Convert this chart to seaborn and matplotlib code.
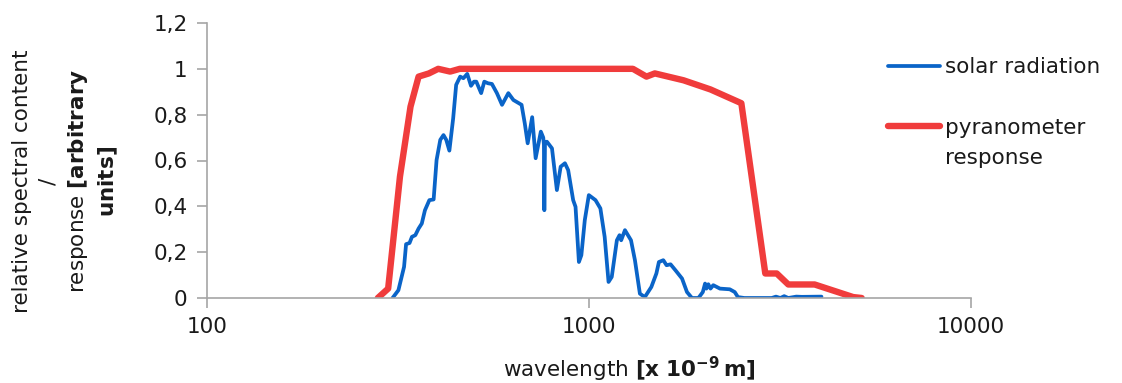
import matplotlib
matplotlib.use("Agg")
import matplotlib.pyplot as plt
import seaborn as sns
from matplotlib.ticker import FixedLocator, FuncFormatter, NullLocator

# spectrum of the sun (wavelength in nm, relative content)
solar_wl = [306, 317, 328, 332, 339, 344, 351, 358, 365, 372, 382, 392, 399, 408,
            416, 423, 431, 441, 449, 460, 469, 480, 491, 500, 507, 522, 532, 544,
            557, 574, 592, 615, 634, 666, 679, 691, 710, 725, 748, 759, 762, 764,
            767, 776, 800, 824, 843, 865, 882, 909, 922, 941, 955, 975, 999, 1040,
            1071, 1099, 1125, 1147, 1183, 1202, 1214, 1242, 1288, 1319, 1359, 1400,
            1456, 1501, 1524, 1565, 1596, 1635, 1684, 1752, 1805, 1860, 1934, 1986,
            2013, 2029, 2053, 2080, 2115, 2202, 2336, 2407, 2454, 2550, 3009, 3086,
            3169, 3243, 3324, 3488, 3609, 4060]
solar_val = [0.0, 0.034, 0.136, 0.235, 0.24, 0.267, 0.274, 0.303, 0.325, 0.383,
             0.427, 0.43, 0.602, 0.69, 0.711, 0.69, 0.643, 0.784, 0.93, 0.966,
             0.959, 0.978, 0.926, 0.944, 0.944, 0.894, 0.944, 0.937, 0.934, 0.894,
             0.843, 0.894, 0.864, 0.843, 0.762, 0.675, 0.789, 0.61, 0.726, 0.70,
             0.67, 0.383, 0.68, 0.682, 0.653, 0.471, 0.573, 0.588, 0.558, 0.427,
             0.398, 0.157, 0.187, 0.34, 0.449, 0.427, 0.391, 0.267, 0.07, 0.092,
             0.252, 0.274, 0.252, 0.296, 0.252, 0.165, 0.019, 0.004, 0.048, 0.107,
             0.157, 0.165, 0.143, 0.147, 0.121, 0.085, 0.026, 0.0, 0.0, 0.026,
             0.063, 0.041, 0.06, 0.041, 0.056, 0.041, 0.038, 0.026, 0.004, 0.0,
             0.0, 0.006, 0.0, 0.008, 0.0, 0.006, 0.005, 0.006]

# pyranometer response
pyr_wl = [280, 298, 320, 341, 358, 381, 403, 433, 459, 1303, 1414, 1487, 1768,
          2080, 2505, 2894, 3101, 3324, 3896, 4916, 5174]
pyr_val = [0.0, 0.041, 0.53, 0.835, 0.966, 0.98, 1.0, 0.988, 1.0, 1.0, 0.966,
           0.98, 0.95, 0.91, 0.85, 0.107, 0.107, 0.059, 0.059, 0.004, 0.0]

x_ticks = [100, 1000, 10000]
y_ticks = [0, 0.2, 0.4, 0.6, 0.8, 1.0, 1.2]

BLUE = '#0A64C8'
RED = '#F03C3C'
GREY = '#A6A6A6'
INK = '#1a1a1a'
FS = 15.5

sns.set_style("white")
plt.rcParams['font.family'] = ['DejaVu Sans']

fig = plt.figure(figsize=(11.22, 3.83), dpi=100)
ax = fig.add_axes([207 / 1122, 85 / 383, (971 - 207) / 1122, 275 / 383])

sns.lineplot(x=solar_wl, y=solar_val, ax=ax, color=BLUE, lw=2.7,
             label='solar radiation', sort=False, estimator=None)
sns.lineplot(x=pyr_wl, y=pyr_val, ax=ax, color=RED, lw=4.6,
             label='pyranometer', sort=False, estimator=None)

ax.set_xscale('log')
ax.set_xlim(100, 10000)
ax.set_ylim(0, 1.2)
ax.xaxis.set_major_locator(FixedLocator(x_ticks))
ax.xaxis.set_minor_locator(NullLocator())
ax.xaxis.set_major_formatter(FuncFormatter(lambda v, p: f"{v:.0f}"))
ax.yaxis.set_major_locator(FixedLocator(y_ticks))
ax.yaxis.set_major_formatter(FuncFormatter(lambda v, p: f"{v:g}".replace('.', ',')))
ax.set_xlabel('')
ax.set_ylabel('')

sns.despine(ax=ax)
for side in ['left', 'bottom']:
    ax.spines[side].set_color(GREY)
    ax.spines[side].set_linewidth(1.2)
ax.tick_params(axis='x', bottom=True, direction='out', length=7, width=1.2,
               color=GREY, labelsize=FS, pad=7, labelcolor=INK)
ax.tick_params(axis='y', left=True, direction='out', length=7, width=1.2,
               color=GREY, labelsize=FS, pad=7, labelcolor=INK)

leg = ax.legend(loc='upper left', bbox_to_anchor=(888 / 1122, 0.851),
                bbox_transform=fig.transFigure, frameon=False, fontsize=FS,
                handlelength=2.4, handletextpad=0.25, labelspacing=1.9,
                borderpad=0, borderaxespad=0)
for t in leg.get_texts():
    t.set_color(INK)

# second line of the red legend label, Excel-style (marker level with first line)
fig.canvas.draw()
bb = leg.get_texts()[1].get_window_extent()
W, H = fig.bbox.width, fig.bbox.height
fig.text(bb.x0 / W, (bb.y0 - 30) / H, "response", ha='left', va='bottom',
         fontsize=FS, color=INK)

fig.text(66 / 1122, 0.527,
         "relative spectral content\n/\nresponse $\\mathbf{[arbitrary}$\n$\\mathbf{units]}$",
         rotation=90, ha='center', va='center', multialignment='center',
         fontsize=FS, linespacing=1.4, color=INK)
fig.text(629 / 1122, 0.036, "wavelength $\\mathbf{[x\\ 10^{-9}\\,m]}$",
         ha='center', va='center', fontsize=FS, color=INK)

fig.savefig('out.png', dpi=100)
